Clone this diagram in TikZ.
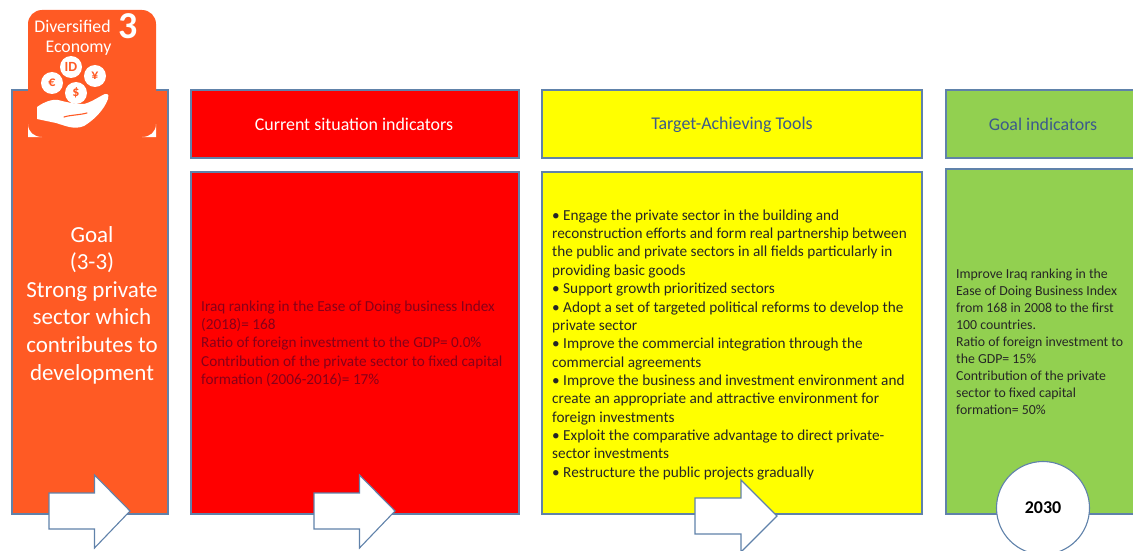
\documentclass[tikz,border=0pt]{standalone}
\usepackage{fontspec}
\setmainfont{Carlito}
\definecolor{goalorange}{RGB}{255,90,36}
\definecolor{boxborder}{RGB}{96,130,170}
\definecolor{headblue}{RGB}{60,90,140}
\definecolor{redtext}{RGB}{135,0,25}
\definecolor{goalgreen}{RGB}{146,208,80}
\definecolor{toolyellow}{RGB}{255,255,0}
\definecolor{currentred}{RGB}{255,0,0}
\tikzset{
  panel/.style={draw=boxborder, line width=1.1pt},
  flowarrow/.style={draw=boxborder, line width=1.1pt, fill=white, line join=miter},
  listtext/.style={align=left, anchor=north west, inner sep=0pt, font=\fontsize{15.25}{18.35}\selectfont},
  headtext/.style={font=\fontsize{17.9}{20}\selectfont},
  tiletext/.style={text=white, font=\fontsize{17.8}{20}\selectfont},
  coin/.style={fill=white, circle, inner sep=0pt, minimum size=22pt, text=goalorange, font=\bfseries\fontsize{14}{14}\selectfont},
}
\begin{document}
\begin{tikzpicture}[x=1pt, y=-1pt]

    % page
    \clip (0,0) rectangle (1133,551);

    % Goal column
    \draw[panel, fill=goalorange] (12,90) rectangle (168,514);
    \node (goal) [align=center, text=white, font=\fontsize{23}{27.6}\selectfont] at (92,305)
      {Goal\\(3-3)\\Strong private\\sector which\\contributes to\\development};

    % Icon tile
    \fill[goalorange, rounded corners=14pt] (28,10) rectangle (156,137);
    \fill[white] (28,124) -- (28,137) -- (42,137) .. controls (34,137) and (28,132) .. (28,124);
    \fill[white] (156,124) -- (156,137) -- (142,137) .. controls (150,137) and (156,132) .. (156,124);
    \node (diversified) [tiletext] at (72.5,26) {Diversified};
    \node (economy) [tiletext] at (78.5,48) {Economy};
    \node (three) [text=white, font=\bfseries\fontsize{38}{38}\selectfont] at (128,26) {3};
    \node (coinid) [coin] at (71,67) {ID};
    \node (coineuro) [coin] at (52,83) {€};
    \node (coinyen) [coin] at (95,76) {¥};
    \node (coindollar) [coin] at (76,93) {\$};
    \fill[white] (37,107) .. controls (44,102) and (52,99) .. (58,100)
      .. controls (66,102) and (74,104) .. (84,104) .. controls (92,102) and (100,96) .. (105,94)
      .. controls (109,93) and (109,97) .. (108,99) .. controls (104,110) and (94,120) .. (84,126)
      .. controls (74,130) and (66,126) .. (56,123) -- (37,119) -- cycle;
    \draw[goalorange, line width=1.1pt, line cap=round] (64,117) .. controls (70,115) and (80,115) .. (87,113);

    % Current situation
    \draw[panel, fill=currentred] (191,90) rectangle (519,158);
    \node (currenthead) [headtext, text=white] at (354,124.5) {Current situation indicators};
    \draw[panel, fill=currentred] (191,172) rectangle (519,514);
    \node (currenttext) [listtext, text=redtext] at (201,300.5)
      {Iraq ranking in the Ease of Doing business Index\\
       (2018)= 168\\
       Ratio of foreign investment to the GDP= 0.0\%\\
       Contribution of the private sector to fixed capital\\
       formation (2006-2016)= 17\%};

    % Tools
    \draw[panel, fill=toolyellow] (542,90) rectangle (922,158);
    \node (toolshead) [headtext, text=headblue] at (732,124.5) {Target-Achieving Tools};
    \draw[panel, fill=toolyellow] (542,172) rectangle (922,514);
    \node (toolstext) [listtext, text=black!85] at (552,209.5)
      {• Engage the private sector in the building and\\
       reconstruction efforts and form real partnership between\\
       the public and private sectors in all fields particularly in\\
       providing basic goods\\
       • Support growth prioritized sectors\\
       • Adopt a set of targeted political reforms to develop the\\
       private sector\\
       • Improve the commercial integration through the\\
       commercial agreements\\
       • Improve the business and investment environment and\\
       create an appropriate and attractive environment for\\
       foreign investments\\
       • Exploit the comparative advantage to direct private-\\
       sector investments\\
       • Restructure the public projects gradually};

    % Goal indicators
    \draw[panel, fill=goalgreen] (946,90) rectangle (1145,158);
    \node (indicatorhead) [headtext, text=headblue] at (1043,124.5) {Goal indicators};
    \draw[panel, fill=goalgreen] (946,169) rectangle (1145,514);
    \node (indicatortext) [listtext, text=black!85, font=\fontsize{13.8}{17}\selectfont] at (956,269)
      {Improve Iraq ranking in the\\
       Ease of Doing Business Index\\
       from 168 in 2008 to the first\\
       100 countries.\\
       Ratio of foreign investment to\\
       the GDP= 15\%\\
       Contribution of the private\\
       sector to fixed capital\\
       formation= 50\%};

    % arrows
    \draw[flowarrow] (49,493) -- (94.5,493) -- (94.5,475) -- (130,511) -- (94.5,548) -- (94.5,529) -- (49,529) -- cycle;
    \draw[flowarrow] (314,493) -- (359.5,493) -- (359.5,475) -- (395,511) -- (359.5,548) -- (359.5,529) -- (314,529) -- cycle;
    \draw[flowarrow] (695,498) -- (741,498) -- (741,480) -- (777,516) -- (741,552) -- (741,534) -- (695,534) -- cycle;

    % year
    \node (year) [circle, draw=boxborder, line width=1.1pt, fill=white, minimum size=93pt, inner sep=0pt,
      font=\bfseries\fontsize{18}{18}\selectfont] at (1043,508) {2030};

\end{tikzpicture}
\end{document}
